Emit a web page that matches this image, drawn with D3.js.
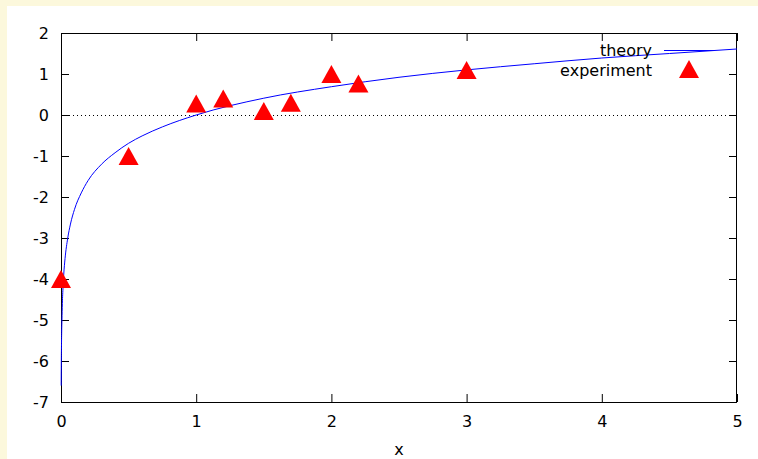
<!DOCTYPE html>
<html lang="en">
<head>
  <meta charset="UTF-8" />
  <title>theory vs experiment</title>
  <script src="https://d3js.org/d3.v7.min.js"></script>
  <style>
    body {
      margin: 0;
      background: #fcf8dc;
      overflow: hidden;
    }

    svg text {
      font-family: "DejaVu Sans", sans-serif;
      font-size: 16px;
      fill: #000;
    }
  </style>
</head>
<body>
  <svg width="758" height="459"></svg>
  <script>
    // measured experiment points
    const expX = [0, 0.5, 1, 1.2, 1.5, 1.7, 2, 2.2, 3];
    const expY = [-4, -1, 0.28, 0.4, 0.1, 0.3, 1.0, 0.77, 1.1];

    // theory curve
    const theoryX = [0.0014, 0.002, 0.003, 0.005, 0.007, 0.01, 0.015, 0.02, 0.03, 0.05, 0.07, 0.1, 0.15, 0.2, 0.3, 0.4, 0.5, 0.6, 0.75, 1, 1.5, 2, 2.5, 3, 3.5, 4, 4.5, 5];
    const theoryY = [-6.6, -6.2, -5.8, -5.3, -5.0, -4.6, -4.2, -3.9, -3.5, -3.0, -2.66, -2.3, -1.9, -1.6, -1.2, -0.92, -0.69, -0.51, -0.29, 0, 0.41, 0.69, 0.92, 1.1, 1.25, 1.39, 1.5, 1.61];

    const xTicks = [0, 1, 2, 3, 4, 5];
    const yTicks = [-7, -6, -5, -4, -3, -2, -1, 0, 1, 2];

    const svg = d3.select("svg");

    // white page area
    svg.append("rect")
      .attr("x", 7).attr("y", 6)
      .attr("width", 751).attr("height", 453)
      .attr("fill", "#fff");

    const plotL = 61, plotR = 737, plotT = 33, plotB = 402;

    const x = d3.scaleLinear().domain([0, 5]).range([plotL, plotR]);
    const y = d3.scaleLinear().domain([-7, 2]).range([plotB, plotT]);

    const tickLen = 8;
    const plainNum = d => String(d);  // keep ascii hyphen like gnuplot

    // zero line
    svg.append("line")
      .attr("x1", plotL).attr("x2", plotR)
      .attr("y1", y(0) + 0.5).attr("y2", y(0) + 0.5)
      .attr("stroke", "#000")
      .attr("stroke-dasharray", "1,3");

    // axes with inward ticks, mirrored on the opposite side
    const bottomAxis = d3.axisBottom(x).tickValues(xTicks).tickSize(-tickLen).tickPadding(14).tickFormat(plainNum);
    const topAxis = d3.axisTop(x).tickValues(xTicks).tickSize(-tickLen).tickFormat("");
    const leftAxis = d3.axisLeft(y).tickValues(yTicks).tickSize(-tickLen).tickPadding(12).tickFormat(plainNum);
    const rightAxis = d3.axisRight(y).tickValues(yTicks).tickSize(-tickLen).tickFormat("");

    const axes = [
      [bottomAxis, `translate(0,${plotB})`],
      [topAxis, `translate(0,${plotT})`],
      [leftAxis, `translate(${plotL},0)`],
      [rightAxis, `translate(${plotR},0)`]
    ];
    axes.forEach(([ax, tr]) => {
      const g = svg.append("g").attr("transform", tr).call(ax);
      g.select(".domain").remove();
      g.selectAll("line").attr("stroke", "#000");
      g.attr("font-size", null).attr("font-family", null);
    });

    // frame
    svg.append("rect")
      .attr("x", plotL + 0.5).attr("y", plotT + 0.5)
      .attr("width", plotR - plotL - 1).attr("height", plotB - plotT)
      .attr("fill", "none")
      .attr("stroke", "#000");

    svg.append("text")
      .attr("x", (plotL + plotR) / 2)
      .attr("y", 455)
      .attr("text-anchor", "middle")
      .text("x");

    // theory curve
    const theory = theoryX.map((v, i) => [v, theoryY[i]]);
    const line = d3.line()
      .x(d => x(d[0]))
      .y(d => y(d[1]))
      .curve(d3.curveMonotoneX);

    svg.append("path")
      .datum(theory)
      .attr("d", line)
      .attr("fill", "none")
      .attr("stroke", "#0000ff")
      .attr("stroke-width", 1);

    // gnuplot-style triangle, centred on half its height
    const gpTriangle = {
      draw(ctx) {
        ctx.moveTo(0, -9);
        ctx.lineTo(10, 9);
        ctx.lineTo(-10, 9);
        ctx.closePath();
      }
    };
    const tri = d3.symbol().type(gpTriangle);

    svg.append("g")
      .selectAll("path")
      .data(expX.map((v, i) => [v, expY[i]]))
      .join("path")
      .attr("d", tri)
      .attr("transform", d => `translate(${x(d[0])},${y(d[1])})`)
      .attr("fill", "#ff0000");

    // legend
    const legend = svg.append("g");
    legend.append("text")
      .attr("x", 652).attr("y", 50)
      .attr("dy", "0.35em")
      .attr("text-anchor", "end")
      .text("theory");
    legend.append("line")
      .attr("x1", 664).attr("x2", 714)
      .attr("y1", 50.5).attr("y2", 50.5)
      .attr("stroke", "#0000ff");
    legend.append("text")
      .attr("x", 652).attr("y", 70)
      .attr("dy", "0.35em")
      .attr("text-anchor", "end")
      .text("experiment");
    legend.append("path")
      .attr("d", tri)
      .attr("transform", "translate(689,69)")
      .attr("fill", "#ff0000");
  </script>
</body>
</html>
